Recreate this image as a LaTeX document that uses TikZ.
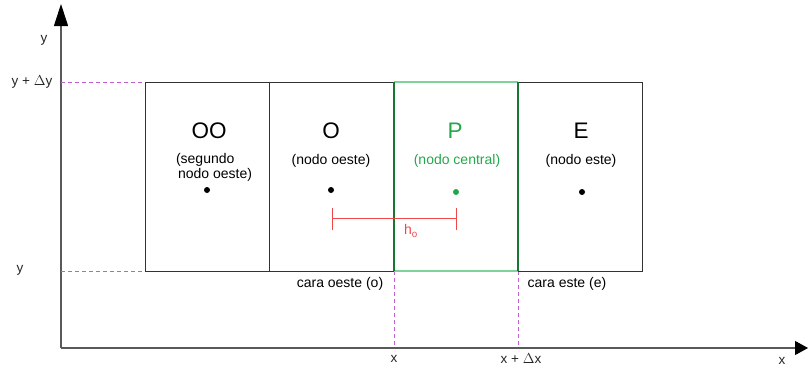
\documentclass[tikz,border=0pt]{standalone}
\usepackage{fontspec}
\setmainfont{Liberation Sans}
\usetikzlibrary{arrows.meta}
\definecolor{cgreen}{HTML}{22A84A}
\definecolor{lgreen}{HTML}{7ED39A}
\definecolor{cmag}{HTML}{C060D0}
\definecolor{cred}{HTML}{F04848}
\begin{document}
\begin{tikzpicture}[x=1pt,y=-1pt,
  axis/.style={draw=black!65,line width=1.1pt},
  cell/.style={draw=black!80,line width=0.9pt},
  guide/.style={draw=cmag,dash pattern=on 4pt off 3pt,line width=0.8pt},
  lbl/.style={font=\fontsize{13.5}{15}\selectfont,text=black!85,inner sep=0pt},
  title/.style={font=\fontsize{22.5}{24}\selectfont,inner sep=0pt},
  sub/.style={font=\fontsize{14}{15}\selectfont,inner sep=0pt,align=center},
  pt/.style={circle,fill=black,inner sep=0pt,minimum size=6pt}]
\useasboundingbox (0,0) rectangle (808,372);
% axes
\coordinate (o) at (61,348);
\coordinate (ytip) at (61,4);
\coordinate (xtip) at (808,348);
\draw[axis,-{Triangle[length=22pt,width=14pt,color=black,fill=black]}] (o) -- (ytip);
\draw[axis,-{Triangle[length=13pt,width=14pt,color=black,fill=black]}] (o) -- (xtip);
% cell corners
\foreach \i/\xx in {0/145,1/269,2/394,3/518,4/642}{
  \coordinate (t\i) at (\xx,82);
  \coordinate (b\i) at (\xx,271);
}
% guide lines
\coordinate (gy1) at (61,82);
\coordinate (gy2) at (61,271);
\coordinate (gx1) at (394,348);
\coordinate (gx2) at (518,348);
\draw[guide] (gy1) -- (t0);
\draw[guide] (gy2) -- (b0);
\draw[guide] (b2) -- (gx1);
\draw[guide] (b3) -- (gx2);
% cells
\draw[cell] (t0) rectangle (b2);
\draw[cell] (t1) -- (b1);
\draw[cell] (t3) rectangle (b4);
\draw[draw=lgreen,line width=1.1pt] (t2) -- (t3) (b2) -- (b3);
\draw[draw=cgreen!70!black,line width=1.1pt] (t2) -- (b2) (t3) -- (b3);
% cell labels
\node[title] (nOO) at (209,131) {OO};
\node[sub,align=left] (sOO) at (214,167) {(segundo\\\hspace*{2pt}nodo oeste)};
\node[pt] (pOO) at (207,190) {};
\node[title] (nO) at (331,131) {O};
\node[sub] (sO) at (331,161) {(nodo oeste)};
\node[pt] (pO) at (331,190) {};
\node[title,text=cgreen] (nP) at (455,131) {P};
\node[sub,text=cgreen] (sP) at (457,161) {(nodo central)};
\node[pt,fill=cgreen] (pP) at (456,192) {};
\node[title] (nE) at (581,131) {E};
\node[sub] (sE) at (581,161) {(nodo este)};
\node[pt] (pE) at (582,192) {};
% distance h_o
\coordinate (hl) at (332,218);
\coordinate (hr) at (456,218);
\draw[cred,line width=0.9pt] (hl) -- (hr)
  ([yshift=-12pt]hl) -- ([yshift=10pt]hl)
  ([yshift=-12pt]hr) -- ([yshift=10pt]hr);
\node[sub,text=cred] (ho) at (411,231) {h$_{\mathrm{o}}$};
% face labels
\node[sub] (fo) at (340,284) {cara oeste (o)};
\node[sub] (fe) at (567,284) {cara este (e)};
% axis labels
\node[lbl] (ly) at (44,40) {y};
\node[lbl] (ly1) at (32,82) {y + $\Delta$y};
\node[lbl] (ly0) at (20,270) {y};
\node[lbl] (lx0) at (394,359) {x};
\node[lbl] (lx1) at (521,359) {x + $\Delta$x};
\node[lbl] (lx) at (782,361) {x};
\end{tikzpicture}
\end{document}
